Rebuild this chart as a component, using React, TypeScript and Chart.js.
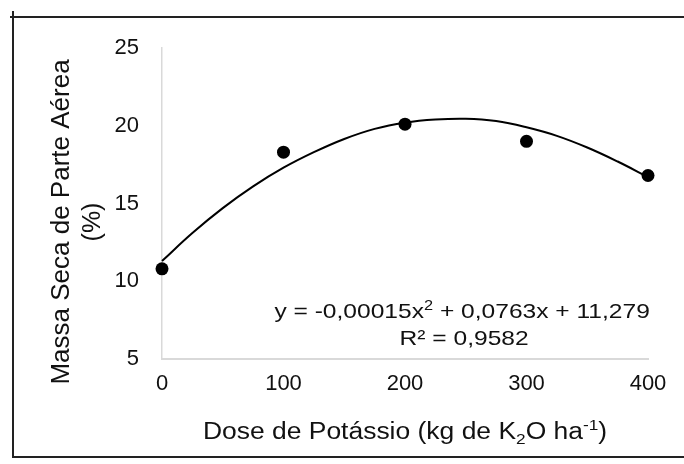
import React, { useEffect, useRef } from "react";
import { Chart, registerables } from "chart.js";

Chart.register(...registerables);

// Observed data
const doses = [0, 100, 200, 300, 400];
const massaSeca = [10.8, 18.3, 20.1, 19.0, 16.8];

// Trend curve
const trendDoses = [0, 25, 50, 75, 100, 125, 150, 175, 200, 225, 250, 275, 300, 325, 350, 375, 400];
const trendValues = [11.3, 13.1, 14.7, 16.1, 17.3, 18.3, 19.15, 19.8, 20.2, 20.4, 20.45, 20.3, 19.9, 19.35, 18.6, 17.7, 16.7];

// Axis ranges / ticks
const xTickValues = [0, 100, 200, 300, 400];
const yTickValues = [5, 10, 15, 20, 25];

// Texts
const yTitleLines = ["Massa Seca de Parte Aérea", "(%)"];
type Part = { t: string; sup?: boolean; sub?: boolean };
const xTitleParts: Part[] = [
  { t: "Dose de Potássio (kg de K" },
  { t: "2", sub: true },
  { t: "O ha" },
  { t: "-1", sup: true },
  { t: ")" },
];
const equationParts: Part[] = [
  { t: "y = -0,00015x" },
  { t: "2", sup: true },
  { t: " + 0,0763x + 11,279" },
];
const r2Text = "R² = 0,9582";

const FONT = "'Liberation Sans', Arial, sans-serif";

function drawRich(
  ctx: CanvasRenderingContext2D,
  parts: Part[],
  cx: number,
  baseline: number,
  size: number,
  sx: number
) {
  const small = Math.round(size * 0.65);
  let total = 0;
  const widths = parts.map((p) => {
    ctx.font = `${p.sup || p.sub ? small : size}px ${FONT}`;
    const w = ctx.measureText(p.t).width;
    total += w;
    return w;
  });
  ctx.save();
  ctx.translate(cx, baseline);
  ctx.scale(sx, 1);
  let x = -total / 2;
  ctx.textAlign = "left";
  ctx.textBaseline = "alphabetic";
  parts.forEach((p, i) => {
    ctx.font = `${p.sup || p.sub ? small : size}px ${FONT}`;
    const dy = p.sup ? -size * 0.38 : p.sub ? size * 0.22 : 0;
    ctx.fillText(p.t, x, dy);
    x += widths[i];
  });
  ctx.restore();
}

const decorPlugin = {
  id: "decor",
  afterDraw(chart: any) {
    const ctx: CanvasRenderingContext2D = chart.ctx;
    const area = chart.chartArea;
    const xs = chart.scales.x;
    const ys = chart.scales.y;
    ctx.save();
    // frame
    ctx.strokeStyle = "#222";
    ctx.lineWidth = 2;
    ctx.beginPath();
    ctx.moveTo(13, 11);
    ctx.lineTo(13, 458);
    ctx.moveTo(10, 17);
    ctx.lineTo(684, 17);
    ctx.moveTo(12, 457);
    ctx.lineTo(684, 457);
    ctx.stroke();

    ctx.fillStyle = "#111";
    // y title (two lines, rotated)
    const yMid = 222;
    ctx.save();
    ctx.translate(62, yMid);
    ctx.rotate(-Math.PI / 2);
    ctx.textAlign = "center";
    ctx.textBaseline = "middle";
    ctx.font = `26px ${FONT}`;
    ctx.fillText(yTitleLines[0], 0, 0);
    ctx.restore();
    ctx.save();
    ctx.translate(93, yMid);
    ctx.rotate(-Math.PI / 2);
    ctx.textAlign = "center";
    ctx.textBaseline = "middle";
    ctx.font = `25px ${FONT}`;
    ctx.fillText(yTitleLines[1], 0, 0);
    ctx.restore();

    // x title
    drawRich(ctx, xTitleParts, (area.left + area.right) / 2, 439, 23, 1.15);

    // equation
    const eqX = xs.getPixelForValue(247);
    drawRich(ctx, equationParts, eqX, ys.getPixelForValue(7.65), 21, 1.17);
    drawRich(ctx, [{ t: r2Text }], eqX + 2, ys.getPixelForValue(5.9), 21, 1.17);
    ctx.restore();
  },
};

export default function App() {
  const ref = useRef<HTMLCanvasElement | null>(null);
  useEffect(() => {
    if (!ref.current) return;
    const chart = new Chart(ref.current, {
      type: "scatter",
      data: {
        datasets: [
          {
            type: "scatter",
            data: doses.map((d, i) => ({ x: d, y: massaSeca[i] })),
            backgroundColor: "#000",
            borderColor: "#000",
            borderWidth: 0,
            pointRadius: 6.5,
            clip: false,
            order: 0,
          } as any,
          {
            type: "line",
            data: trendDoses.map((d, i) => ({ x: d, y: trendValues[i] })),
            borderColor: "#000",
            borderWidth: 2,
            pointRadius: 0,
            tension: 0.4,
            fill: false,
            clip: false,
            order: 1,
          } as any,
        ],
      },
      options: {
        responsive: false,
        animation: false,
        devicePixelRatio: 1,
        layout: { padding: { left: 0, right: 36, top: 48, bottom: 0 } },
        plugins: { legend: { display: false }, tooltip: { enabled: false } },
        scales: {
          x: {
            type: "linear",
            min: xTickValues[0],
            max: xTickValues[xTickValues.length - 1],
            afterBuildTicks: (s: any) => {
              s.ticks = xTickValues.map((v) => ({ value: v }));
            },
            afterFit: (s: any) => {
              s.height = 105;
            },
            grid: { display: false, drawTicks: false },
            border: { display: true, color: "#d9d9d9", width: 2 },
            ticks: {
              padding: 12,
              color: "#111",
              font: { family: FONT, size: 22 },
              maxRotation: 0,
            },
          },
          y: {
            type: "linear",
            min: yTickValues[0],
            max: yTickValues[yTickValues.length - 1],
            afterBuildTicks: (s: any) => {
              s.ticks = yTickValues.map((v) => ({ value: v }));
            },
            afterFit: (s: any) => {
              s.width = 162;
            },
            grid: { display: false, drawTicks: false },
            border: { display: true, color: "#d9d9d9", width: 1.5 },
            ticks: {
              padding: 23,
              color: "#111",
              font: { family: FONT, size: 22 },
            },
          },
        },
      },
      plugins: [decorPlugin],
    });
    return () => chart.destroy();
  }, []);
  return (
    <div style={{ position: "absolute", left: 0, top: 0, width: 684, height: 464, background: "#fff" }}>
      <canvas ref={ref} width={684} height={464} style={{ display: "block" }} />
    </div>
  );
}
